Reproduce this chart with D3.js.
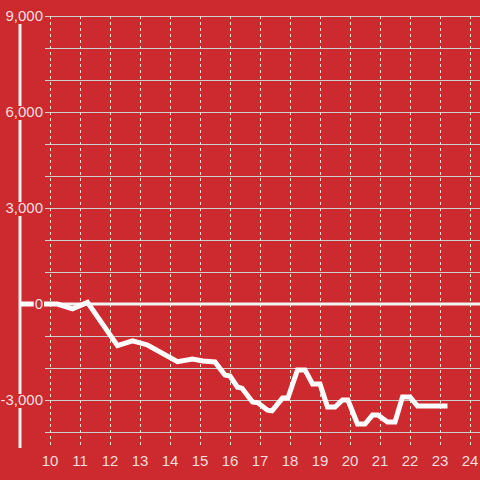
<!DOCTYPE html>
<html><head><meta charset="utf-8">
<script src="https://cdn.jsdelivr.net/npm/d3@7"></script>
<style>html,body{margin:0;padding:0;background:#cc2a2f;}svg{display:block;}</style>
</head><body>
<svg id="c" width="480" height="480"></svg>
<script>
const hours = [9.0,10.25,10.75,11.25,12.25,12.75,13.25,14.25,14.75,15.1,15.5,15.83,16.0,16.25,16.4,16.75,16.93,17.25,17.4,17.75,17.93,18.25,18.5,18.75,19.0,19.25,19.5,19.75,19.93,20.25,20.5,20.75,20.93,21.25,21.5,21.75,22.0,22.25,23.25];
const values = [0,0,-150,50,-1300,-1150,-1280,-1800,-1720,-1780,-1810,-2220,-2250,-2600,-2630,-3060,-3090,-3320,-3340,-2940,-2940,-2060,-2060,-2500,-2500,-3220,-3220,-3000,-3000,-3750,-3750,-3470,-3470,-3690,-3690,-2910,-2910,-3190,-3190];
const xTicks = [10,11,12,13,14,15,16,17,18,19,20,21,22,23,24];
const yLabelTicks = [9000,6000,3000,0,-3000];
const yGridTicks = [9000,8000,7000,6000,5000,4000,3000,2000,1000,0,-1000,-2000,-3000,-4000];

const svg = d3.select("#c");
const bg = "#cc2a2f";
const x = d3.scaleLinear().domain([9, 24.3333]).range([20, 480]);
const y = d3.scaleLinear().domain([-4500, 9000]).range([448, 16]);

// horizontal grid
svg.append("g").selectAll("line").data(yGridTicks).join("line")
  .attr("x1", 45).attr("x2", 480)
  .attr("y1", d => y(d)).attr("y2", d => y(d))
  .attr("stroke", "#cfcfcf").attr("stroke-width", 1)
  .attr("shape-rendering", "crispEdges");

// vertical dashed grid
svg.append("g").selectAll("line").data(xTicks).join("line")
  .attr("x1", d => x(d)).attr("x2", d => x(d))
  .attr("y1", y(9000)).attr("y2", y(-4500))
  .attr("stroke", "#e0e0e0").attr("stroke-width", 1)
  .attr("stroke-dasharray", "3,3")
  .attr("shape-rendering", "crispEdges");

// zero line
svg.append("line").attr("x1", 20).attr("x2", 480)
  .attr("y1", y(0)).attr("y2", y(0))
  .attr("stroke", "#f2f2f2").attr("stroke-width", 3);

// y axis line
svg.append("line").attr("x1", 20).attr("x2", 20)
  .attr("y1", y(9000)).attr("y2", y(-4500))
  .attr("stroke", "#f2f2f2").attr("stroke-width", 3);

// data line
const line = d3.line().x((d,i) => x(hours[i])).y(d => y(d));
svg.append("path").attr("d", line(values))
  .attr("fill", "none").attr("stroke", "#ffffff").attr("stroke-width", 5)
  .attr("stroke-linejoin", "miter");

// y labels with background
const fmt = v => d3.format(",")(v).replace("\u2212", "-");
const yl = svg.append("g");
yLabelTicks.forEach(v => {
  const t = yl.append("text").attr("x", 43).attr("y", y(v)).attr("dy", "0.35em")
    .attr("text-anchor", "end").attr("font-family", "Liberation Sans, Arial, sans-serif")
    .attr("font-size", 15).attr("fill", "#f3dede").text(fmt(v));
  const b = t.node().getBBox();
  yl.insert("rect", "text").attr("x", b.x - 1).attr("y", y(v) - 6).attr("width", b.width + 2).attr("height", 14)
    .attr("fill", bg);
});

// x labels
svg.append("g").selectAll("text").data(xTicks).join("text")
  .attr("x", d => x(d)).attr("y", 466)
  .attr("text-anchor", "middle").attr("font-family", "Liberation Sans, Arial, sans-serif")
  .attr("font-size", 15).attr("fill", "#f3dede").text(d => d);
</script>
</body></html>
